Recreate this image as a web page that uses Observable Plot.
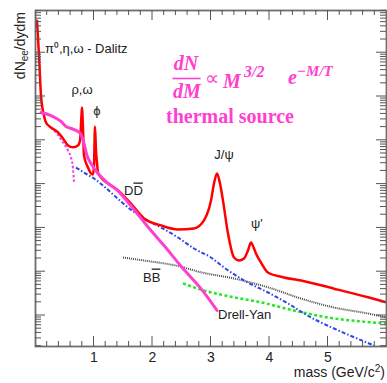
<!DOCTYPE html>
<html>
<head>
<meta charset="utf-8">
<script src="https://cdn.jsdelivr.net/npm/d3@7"></script>
<script src="https://cdn.jsdelivr.net/npm/@observablehq/plot@0.6"></script>
<style>
  html, body { margin: 0; padding: 0; background: #fff; }
  svg { display: block; }
</style>
</head>
<body>
<div id="chart"></div>
<script>
// Dielectron mass spectrum (arbitrary normalisation, log scale) and its sources.

// Total cocktail
const totalMass = [0.026, 0.060, 0.094, 0.145, 0.179, 0.265, 0.385, 0.470, 0.556, 0.641, 0.726, 0.761,
  0.786, 0.795, 0.803, 0.812, 0.829, 0.897, 0.949, 0.983, 1.000, 1.017, 1.034, 1.051, 1.068, 1.120,
  1.239, 1.410, 1.632, 1.855, 2.145, 2.436, 2.709, 2.880, 3.000, 3.051, 3.103, 3.154, 3.205, 3.291,
  3.393, 3.479, 3.564, 3.632, 3.684, 3.735, 3.769, 3.855, 3.974, 4.248, 4.538, 5.103, 5.684, 6.0];
const totalYield = [5.4, 0.86, 0.105, 0.037, 0.0255, 0.0196, 0.0151, 0.0110, 0.0076, 0.0069, 0.0076, 0.0099,
  0.037, 0.056, 0.037, 0.0186, 0.0045, 0.0024, 0.00175, 0.00166, 0.00266, 0.0207, 0.0059, 0.0031, 0.00184, 0.00142,
  0.00103, 0.00072, 0.00036, 0.000164, 0.000114, 0.000092, 0.000097, 0.000148, 0.00042, 0.00103, 0.00175, 0.00103, 0.00042, 0.000074,
  0.0000211, 0.000018, 0.00002, 0.0000305, 0.0000465, 0.0000339, 0.0000261, 0.0000162, 0.0000096, 0.0000074, 0.0000063, 0.0000041, 0.0000026, 0.000002];

// Thermal source
const thermalMass = [0.094, 0.265, 0.436, 0.521, 0.607, 0.726, 0.778, 0.829, 0.880, 0.949, 1.068, 1.239,
  1.410, 1.598, 1.974, 2.197, 2.521, 2.829, 3.103];
const thermalYield = [0.0432, 0.0368, 0.0269, 0.0207, 0.0186, 0.0159, 0.0136, 0.00845, 0.0045, 0.00295, 0.00175, 0.00105,
  0.0007, 0.00036, 0.000087, 0.0000396, 0.0000118, 0.0000041, 0.0000013];

// pi0, eta, omega Dalitz decays
const dalitzMass = [0.265, 0.350, 0.470, 0.556, 0.607, 0.641, 0.658];
const dalitzYield = [0.0196, 0.0151, 0.0089, 0.00585, 0.00405, 0.00227, 0.00109];

// Open charm (D Dbar)
const charmMass = [0.692, 0.829, 1.000, 1.154, 1.291, 1.462, 1.632, 1.855, 2.145, 2.436, 2.709, 3.000,
  3.222, 3.564, 3.974, 4.316, 4.709, 5.103, 5.786];
const charmYield = [0.00239, 0.00184, 0.00134, 0.00093, 0.00064, 0.0004, 0.00026, 0.000164, 0.000102, 0.0000604, 0.0000339, 0.0000211,
  0.0000125, 0.0000063, 0.00000335, 0.00000188, 0.0000009, 0.000000505, 0.000000207];

// Open beauty (B Bbar)
const beautyMass = [1.496, 1.855, 2.436, 2.829, 3.393, 3.974, 4.538, 5.103, 5.684, 6.0];
const beautyYield = [0.0000211, 0.000018, 0.0000135, 0.0000097, 0.000007, 0.0000044, 0.00000244, 0.00000152, 0.00000111, 0.0000009];

// Drell-Yan
const drellYanMass = [2.521, 2.829, 3.393, 3.855, 4.419, 5.000, 5.564, 6.0];
const drellYanYield = [5.4e-6, 3.9e-6, 2.6e-6, 2.0e-6, 1.3e-6, 9.0e-7, 7.3e-7, 6.6e-7];

const massTicks = [1, 2, 3, 4, 5];

const rows = (ms, ys) => ms.map((m, i) => ({mass: m, dndm: ys[i]}));

const sans = "'Liberation Sans', Arial, Helvetica, sans-serif";
const serif = "'Liberation Serif', 'Times New Roman', serif";
const pink = "#ff3fcf";
const ink = "#222";

// Component line: butt caps so the short dashes keep their gaps
const component = (ms, ys, stroke, width, dash) => Plot.line(rows(ms, ys), {
  x: "mass", y: "dndm", stroke, strokeWidth: width, strokeDasharray: dash,
  strokeLinecap: "butt", strokeLinejoin: "round", curve: "monotone-x"
});

const note = (s, x, y, o = {}) => Plot.text([s], {
  x, y, text: d => d, lineAnchor: "bottom", fill: ink, fontFamily: sans, fontSize: 13, ...o
});
const formula = (s, x, y, o = {}) => note(s, x, y, {
  fill: pink, fontFamily: serif, fontWeight: "bold", fontStyle: "italic", fontSize: 20, textAnchor: "start", ...o
});

const chart = Plot.plot({
  width: 387,
  height: 383,
  marginLeft: 35,
  marginRight: 1,
  marginTop: 10,
  marginBottom: 37,
  style: {background: "#fff", fontFamily: sans, overflow: "visible"},
  x: {domain: [0, 6]},
  y: {type: "log", domain: [1.96e-7, 9.2], axis: null},
  marks: [
    component(drellYanMass, drellYanYield, "#22e822", 2.5, "3,2.4"),
    component(beautyMass, beautyYield, "#4a4a4a", 2, "1,1"),
    component(charmMass, charmYield, "#2f45e6", 2, "4,2,1.5,2"),
    component(dalitzMass, dalitzYield, "#ee44ee", 2, "2.5,2"),
    Plot.line(rows(totalMass, totalYield), {x: "mass", y: "dndm", stroke: "#ff0000", strokeWidth: 2.5, curve: "monotone-x"}),
    Plot.line(rows(thermalMass, thermalYield), {x: "mass", y: "dndm", stroke: pink, strokeWidth: 3, curve: "monotone-x"}),

    note("π⁰,η,ω - Dalitz", 0.162, 0.96, {textAnchor: "start"}),
    note("ρ,ω", 0.795, 0.117),
    note("ϕ", 1.051, 0.0388),
    note("DD", 1.513, 5.5e-4, {textAnchor: "start"}),
    note("J/ψ", 3.222, 3.84e-3),
    note("ψ'", 3.786, 1.02e-4),
    note("BB", 1.838, 5.97e-6, {textAnchor: "start"}),
    note("Drell-Yan", 3.12, 8.5e-7, {textAnchor: "start"}),

    formula("dN", 2.573, 0.393, {textAnchor: "middle"}),
    Plot.ruleY([0.258], {x1: 2.35, x2: 2.83, stroke: pink, strokeWidth: 1.6}),
    formula("dM", 2.59, 0.0948, {textAnchor: "middle"}),
    formula("∝", 2.897, 0.188, {fontStyle: "normal", fontWeight: "normal"}),
    formula("M", 3.205, 0.16),
    formula("3/2", 3.564, 0.272, {fontSize: 16}),
    formula("e", 4.316, 0.198),
    formula("−M/T", 4.47, 0.301, {fontSize: 15}),
    formula("thermal source", 2.231, 0.0242, {fontStyle: "normal"}),

    Plot.axisX({ticks: massTicks, tickFormat: d => String(d), tickSize: 0, tickPadding: 6, fontSize: 14, fill: ink, label: null}),
    Plot.frame({stroke: "#6e6e6e", strokeWidth: 1.8})
  ]
});

document.getElementById("chart").append(chart);

const svg = d3.select(chart);

// Inward-pointing ticks on all four sides, placed through the chart's own scales
const sx = chart.scale("x"), sy = chart.scale("y");
const [xl, xr] = sx.range;
const [yb, yt] = sy.range;
const ticks = svg.append("g").attr("stroke", "#555").attr("stroke-width", 1);
for (let i = 1; i < 30; i++) {
  const px = sx.apply(i / 5);
  const len = i % 5 === 0 ? 10 : 5;
  ticks.append("line").attr("x1", px).attr("x2", px).attr("y1", yb).attr("y2", yb - len);
  ticks.append("line").attr("x1", px).attr("x2", px).attr("y1", yt).attr("y2", yt + len);
}
const [vmin, vmax] = sy.domain;
for (let k = -7; k <= 1; k++) {
  for (let j = 1; j <= 9; j++) {
    const v = j * Math.pow(10, k);
    if (v <= vmin || v >= vmax) continue;
    const py = sy.apply(v);
    const len = j === 1 ? 10 : 6;
    ticks.append("line").attr("x1", xl).attr("x2", xl + len).attr("y1", py).attr("y2", py);
    ticks.append("line").attr("x1", xr).attr("x2", xr - len).attr("y1", py).attr("y2", py);
  }
}

// Overline the antiparticle letter in D Dbar and B Bbar
svg.selectAll("text").filter(function () { return this.textContent === "DD" || this.textContent === "BB"; })
  .each(function () {
    const c = this.textContent[0];
    const t = d3.select(this);
    t.text(null);
    t.append("tspan").text(c);
    t.append("tspan").style("text-decoration", "overline").text(c);
  });

// Axis titles
const yTitle = svg.append("text")
  .attr("transform", `translate(25,${yt + 2}) rotate(-90)`)
  .attr("text-anchor", "end")
  .attr("font-family", sans).attr("font-size", 14).attr("fill", ink);
yTitle.append("tspan").text("dN");
yTitle.append("tspan").attr("font-size", 10).attr("dy", 3).text("ee");
yTitle.append("tspan").attr("dy", -3).text("/dydm");

const xTitle = svg.append("text")
  .attr("x", xr - 1).attr("y", yb + 31)
  .attr("text-anchor", "end")
  .attr("font-family", sans).attr("font-size", 14).attr("fill", ink);
xTitle.append("tspan").text("mass (GeV/c");
xTitle.append("tspan").attr("font-size", 10).attr("dy", -5).text("2");
xTitle.append("tspan").attr("dy", 5).text(")");
</script>
</body>
</html>
